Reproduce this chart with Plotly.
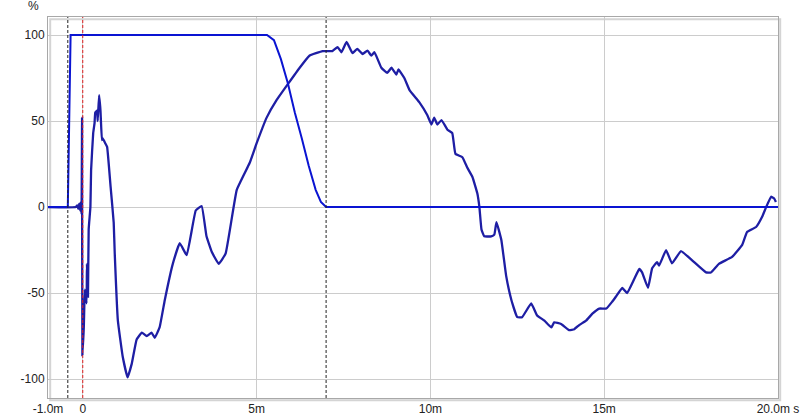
import plotly.graph_objects as go

# Step response (time in ms, value in %)
resp_t = [-1.0, -0.20, -0.16, -0.13, -0.10, -0.07, -0.05, -0.035, -0.02, -0.01,
          0.03, 0.06, 0.11, 0.12, 0.15, 0.17, 0.22, 0.24, 0.30, 0.34, 0.36, 0.41,
          0.43, 0.47, 0.51, 0.55, 0.57, 0.65, 0.70, 0.80, 0.89, 0.92, 1.01, 1.15,
          1.29, 1.41, 1.55, 1.70, 1.84, 1.98, 2.07, 2.21, 2.36, 2.59, 2.79, 2.99,
          3.25, 3.42, 3.56, 3.71, 3.91, 4.11, 4.43, 4.80, 5.00, 5.29, 5.57, 6.24,
          6.52, 6.90, 7.18, 7.33, 7.44, 7.59, 7.76, 7.90, 8.05, 8.19, 8.30, 8.39,
          8.59, 8.76, 8.88, 9.02, 9.08, 9.25, 9.40, 9.68, 9.91, 10.03, 10.11, 10.20,
          10.32, 10.49, 10.63, 10.72, 10.92, 11.06, 11.21, 11.35, 11.41, 11.47,
          11.55, 11.75, 11.84, 11.90, 12.04, 12.18, 12.33, 12.50, 12.64, 12.90,
          13.07, 13.28, 13.48, 13.56, 13.76, 13.99, 14.14, 14.28, 14.48, 14.66,
          14.86, 15.06, 15.23, 15.34, 15.52, 15.66, 15.86, 16.01, 16.09, 16.26,
          16.38, 16.52, 16.58, 16.78, 16.95, 17.21, 17.53, 17.93, 18.07, 18.30,
          18.68, 18.97, 19.11, 19.37, 19.54, 19.66, 19.80, 19.89, 19.94]
resp_v = [0, 0, 1, -1, 2, -2, 3, -4, 52, -86,
          -70, -48, -56, -33, -52, -13, 0, 21.5, 43, 49, 55, 56,
          50, 65, 56, 39, 40, 37, 35, 12, -9, -27, -66, -87,
          -99, -91, -77, -73, -75, -73, -76, -70, -54, -33, -21, -28,
          -2, 0.6, -17, -26, -33, -27, 10, 25.6, 37, 52, 62, 81,
          88, 90.7, 90.7, 93, 90, 96, 89.5, 92, 89, 91, 88, 90,
          81, 78, 81, 77, 80, 75, 68, 61, 53.5, 48, 52, 48,
          50.6, 45, 43, 31, 29, 23, 17.5, 8, 0, -13,
          -17, -17, -16, -8.7, -19, -40, -54, -64, -64, -56,
          -63, -66, -70, -67, -68, -71.5, -71, -68.6, -66, -62,
          -59, -59, -55, -52, -47, -50, -42, -36, -38, -47,
          -35.6, -32, -34, -25, -32.7, -25.6, -31, -38, -38, -33,
          -29, -22, -14.5, -11.6, -5.8, 0, 6, 5, 3]

# Window (time in ms, value in %)
win_t = [-1.0, -0.43, -0.35, 5.3, 5.5, 5.7, 5.9, 6.1, 6.3, 6.5, 6.7, 6.85, 7.0, 20.0]
win_v = [0, 0, 100, 100, 97, 86, 72, 55, 40, 24, 10, 3, 0, 0]

# Markers
black_markers = [-0.43, 7.0]
red_markers = [0.0]

x_ticks = [-1.0, 0, 5, 10, 15, 20]
x_tick_labels = ["-1.0m", "0", "5m", "10m", "15m", "20.0m s"]
y_ticks = [100, 50, 0, -50, -100]
y_tick_labels = ["100", "50", "0", "-50", "-100"]

fig = go.Figure()

fig.add_trace(go.Scatter(x=resp_t, y=resp_v, mode="lines",
                         line=dict(color="#1e1ea4", width=2.3, shape="spline", smoothing=0.3),
                         hoverinfo="skip"))
fig.add_trace(go.Scatter(x=win_t, y=win_v, mode="lines",
                         line=dict(color="#0a14d2", width=2), hoverinfo="skip"))

shapes = []
# shadow of the frame
shapes.append(dict(type="rect", xref="paper", yref="paper", x0=0.003, y0=-0.006,
                   x1=1.003, y1=0.994, line=dict(color="#d4d4d4", width=2),
                   layer="below"))
for xv in black_markers:
    shapes.append(dict(type="line", xref="x", yref="paper", x0=xv, x1=xv, y0=0, y1=1,
                       line=dict(color="#222222", width=1, dash="3px,2px")))
for xv in red_markers:
    shapes.append(dict(type="line", xref="x", yref="paper", x0=xv, x1=xv, y0=0, y1=1,
                       line=dict(color="#e02020", width=1, dash="3px,2px")))
fig.update_layout(shapes=shapes)

fig.update_xaxes(range=[-1.0, 20.0], tickvals=x_ticks, ticktext=x_tick_labels,
                 showgrid=True, gridcolor="#cccccc", gridwidth=1, zeroline=False,
                 showline=True, linecolor="#a8a8a8", linewidth=1, mirror=True,
                 ticks="", automargin=False,
                 tickfont=dict(family="Liberation Sans, Arial", size=12, color="#222"))
fig.update_yaxes(range=[-111, 110.5], tickvals=y_ticks, ticktext=y_tick_labels,
                 showgrid=True, gridcolor="#cccccc", gridwidth=1, zeroline=False,
                 showline=True, linecolor="#a8a8a8", linewidth=1, mirror=True,
                 ticks="", automargin=False,
                 tickfont=dict(family="Liberation Sans, Arial", size=12, color="#222"))

fig.add_annotation(text="%", xref="paper", yref="paper", x=-0.02, y=1.029,
                   xanchor="center", yanchor="middle", showarrow=False,
                   font=dict(family="Liberation Sans, Arial", size=12, color="#222"))

fig.update_layout(width=800, height=420, showlegend=False,
                  margin=dict(l=48, r=22, t=17, b=22, autoexpand=False),
                  paper_bgcolor="white", plot_bgcolor="white")

fig.write_html("out.html", config={"displayModeBar": False},
               post_script="document.body.style.margin='0';document.body.style.overflow='hidden';")
